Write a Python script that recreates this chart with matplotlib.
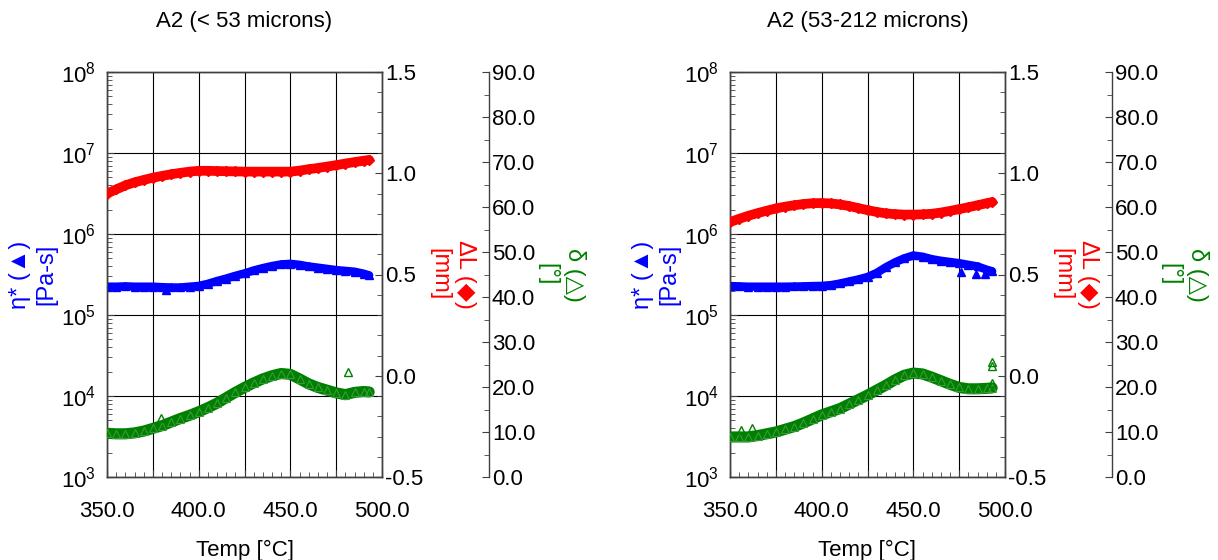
import numpy as np
import matplotlib
matplotlib.use('Agg')
import matplotlib.pyplot as plt
from matplotlib.ticker import MultipleLocator, FuncFormatter, FormatStrFormatter, LogLocator, NullFormatter

plt.rcParams['font.family'] = ['Liberation Sans', 'DejaVu Sans']
plt.rcParams['mathtext.fontset'] = 'custom'
plt.rcParams['mathtext.rm'] = 'Liberation Sans'
plt.rcParams['mathtext.it'] = 'Liberation Sans'
plt.rcParams['mathtext.bf'] = 'Liberation Sans'

# ---- data ----
temp = [350, 355, 360, 365, 370, 375, 380, 385, 390, 395, 400, 405, 410, 415, 420,
        425, 430, 435, 440, 445, 450, 455, 460, 465, 470, 475, 480, 485, 490, 493]

titles = ['A2 (< 53 microns)', 'A2 (53-212 microns)']

# panel 1: < 53 microns
eta_a = [2.24e5, 2.24e5, 2.26e5, 2.24e5, 2.24e5, 2.24e5, 2.21e5, 2.19e5, 2.19e5, 2.24e5,
         2.29e5, 2.43e5, 2.63e5, 2.82e5, 3.05e5, 3.27e5, 3.55e5, 3.80e5, 4.03e5, 4.22e5,
         4.29e5, 4.17e5, 3.98e5, 3.85e5, 3.72e5, 3.59e5, 3.51e5, 3.43e5, 3.24e5, 3.09e5]
dl_a = [0.900, 0.920, 0.940, 0.955, 0.967, 0.978, 0.987, 0.995, 1.002, 1.008,
        1.012, 1.012, 1.011, 1.010, 1.009, 1.008, 1.008, 1.008, 1.008, 1.008,
        1.008, 1.013, 1.020, 1.026, 1.033, 1.040, 1.048, 1.055, 1.062, 1.066]
delta_a = [9.7, 9.6, 9.6, 9.8, 10.2, 10.8, 11.4, 12.2, 13.0, 13.7,
           14.5, 15.4, 16.4, 17.6, 18.8, 19.9, 20.9, 21.8, 22.5, 23.0,
           22.8, 21.8, 20.7, 19.9, 19.3, 18.7, 18.3, 18.8, 19.0, 18.9]
delta_a_out_t = [379.5, 481.5]
delta_a_out = [13.2, 23.4]
eta_a_out_t = [382]
eta_a_out = [2.05e5]

# panel 2: 53-212 microns
eta_b = [2.28e5, 2.26e5, 2.24e5, 2.24e5, 2.24e5, 2.24e5, 2.24e5, 2.25e5, 2.26e5, 2.28e5,
         2.29e5, 2.34e5, 2.45e5, 2.60e5, 2.75e5, 2.95e5, 3.31e5, 3.89e5, 4.47e5, 5.01e5,
         5.43e5, 5.25e5, 4.90e5, 4.68e5, 4.52e5, 4.37e5, 4.17e5, 3.98e5, 3.63e5, 3.47e5]
dl_b = [0.759, 0.775, 0.790, 0.803, 0.815, 0.826, 0.835, 0.842, 0.848, 0.852,
        0.853, 0.851, 0.846, 0.838, 0.828, 0.818, 0.809, 0.802, 0.798, 0.796,
        0.796, 0.797, 0.800, 0.806, 0.814, 0.823, 0.832, 0.842, 0.852, 0.858]
delta_b = [8.9, 8.9, 8.9, 9.2, 9.6, 10.0, 10.6, 11.2, 12.0, 12.9,
           13.8, 14.5, 15.2, 16.2, 17.2, 18.2, 19.3, 20.4, 21.6, 22.6,
           23.1, 22.9, 22.2, 21.4, 20.6, 19.9, 19.6, 19.6, 19.7, 19.8]
delta_b_out_t = [356, 362, 493, 493, 493]
delta_b_out = [10.5, 10.9, 25.6, 24.6, 20.9]
eta_b_out_t = [476, 484, 489]
eta_b_out = [3.4e5, 3.25e5, 3.2e5]

BLUE = '#0000ff'
RED = '#ff0000'
GREEN = '#008000'
SPINE = '#404040'
FS = 16

fig = plt.figure(figsize=(12.18, 5.6), dpi=100)
W, H = 1218, 560


def panel(x0, title, eta, dl, delta, eta_ot, eta_o, d_ot, d_o):
    ax = fig.add_axes([x0 / W, (H - 477) / H, 275 / W, 405 / H])
    ax2 = ax.twinx()
    ax3 = ax.twinx()

    # eta* (blue, log axis)
    ax.plot(temp, eta, color=BLUE, lw=6, solid_capstyle='round', zorder=3)
    ax.plot(temp, eta, ls='none', marker='^', ms=6, color=BLUE, zorder=3)
    ax.plot(eta_ot, eta_o, ls='none', marker='^', ms=6, color=BLUE, zorder=3)
    ax.set_yscale('log')
    ax.set_ylim(1e3, 1e8)
    ax.set_xlim(350, 500)
    ax.yaxis.set_major_locator(LogLocator(base=10, numticks=10))
    ax.yaxis.set_minor_locator(LogLocator(base=10, subs=np.arange(2, 10), numticks=20))
    ax.yaxis.set_minor_formatter(NullFormatter())
    ax.yaxis.set_major_formatter(FuncFormatter(lambda v, p: r'$\mathregular{10^{%d}}$' % round(np.log10(v))))
    ax.xaxis.set_major_locator(MultipleLocator(25))
    ax.xaxis.set_minor_locator(MultipleLocator(5))
    ax.xaxis.set_major_formatter(FuncFormatter(lambda v, p: f'{v:.1f}' if round(v) % 50 == 0 else ''))
    ax.grid(True, which='major', color='black', lw=0.8)
    ax.tick_params(which='both', direction='in', colors=SPINE, labelcolor='black', labelsize=FS)
    ax.tick_params(which='major', length=5)
    ax.tick_params(which='minor', length=3.5)
    ax.tick_params(axis='x', pad=17)
    ax.tick_params(axis='y', pad=8)
    ax.tick_params(right=False, top=False)
    ax.set_xlabel('Temp [°C]', fontsize=FS, labelpad=13)

    # delta L (red)
    ax2.plot(temp, dl, color=RED, lw=7, solid_capstyle='round', zorder=3)
    ax2.plot(temp, dl, ls='none', marker='D', ms=5.5, color=RED, zorder=3)
    ax2.set_ylim(-0.5, 1.5)
    ax2.yaxis.set_major_locator(MultipleLocator(0.5))
    ax2.yaxis.set_minor_locator(MultipleLocator(0.1))
    ax2.yaxis.set_major_formatter(FormatStrFormatter('%.1f'))

    # delta (green)
    ax3.plot(temp, delta, color=GREEN, lw=8, solid_capstyle='round', zorder=3)
    ax3.plot(temp, delta, ls='none', marker='^', ms=6, mfc='none', mec='#3a9a3a', mew=0.8, zorder=3)
    ax3.plot(d_ot, d_o, ls='none', marker='^', ms=6, mfc='none', mec=GREEN, mew=1, zorder=3)
    ax3.set_ylim(0, 90)
    ax3.yaxis.set_major_locator(MultipleLocator(10))
    ax3.yaxis.set_minor_locator(MultipleLocator(5))
    ax3.yaxis.set_major_formatter(FormatStrFormatter('%.1f'))
    ax3.spines['right'].set_position(('axes', 1.389))
    for s in ['top', 'left', 'bottom']:
        ax3.spines[s].set_visible(False)

    for a in (ax2, ax3):
        a.tick_params(which='both', direction='in', colors=SPINE, labelcolor='black',
                      labelsize=FS, pad=2)
        a.tick_params(which='major', length=5)
        a.tick_params(which='minor', length=3.5)
    for a in (ax, ax2, ax3):
        for s in a.spines.values():
            s.set_color(SPINE)
            s.set_linewidth(1)

    ax.text(-0.269, 0.5, 'η* (▲)\n[Pa-s]', transform=ax.transAxes, rotation=90,
            ha='center', va='center', ma='center', color=BLUE, fontsize=17, linespacing=1.25)
    ax.text(1.255, 0.5, 'ΔL (◆)\n[mm]', transform=ax.transAxes, rotation=-90,
            ha='center', va='center', ma='center', color=RED, fontsize=17, linespacing=1.25)
    ax.text(1.651, 0.5, 'δ (△)\n[°]', transform=ax.transAxes, rotation=-90,
            ha='center', va='center', ma='center', color=GREEN, fontsize=17, linespacing=1.25)
    fig.text((x0 + 137.5) / W, 1 - 22 / H, title, ha='center', va='center', fontsize=FS)


panel(107, titles[0], eta_a, dl_a, delta_a, eta_a_out_t, eta_a_out, delta_a_out_t, delta_a_out)
panel(730, titles[1], eta_b, dl_b, delta_b, eta_b_out_t, eta_b_out, delta_b_out_t, delta_b_out)

fig.savefig('out.png', dpi=100)
